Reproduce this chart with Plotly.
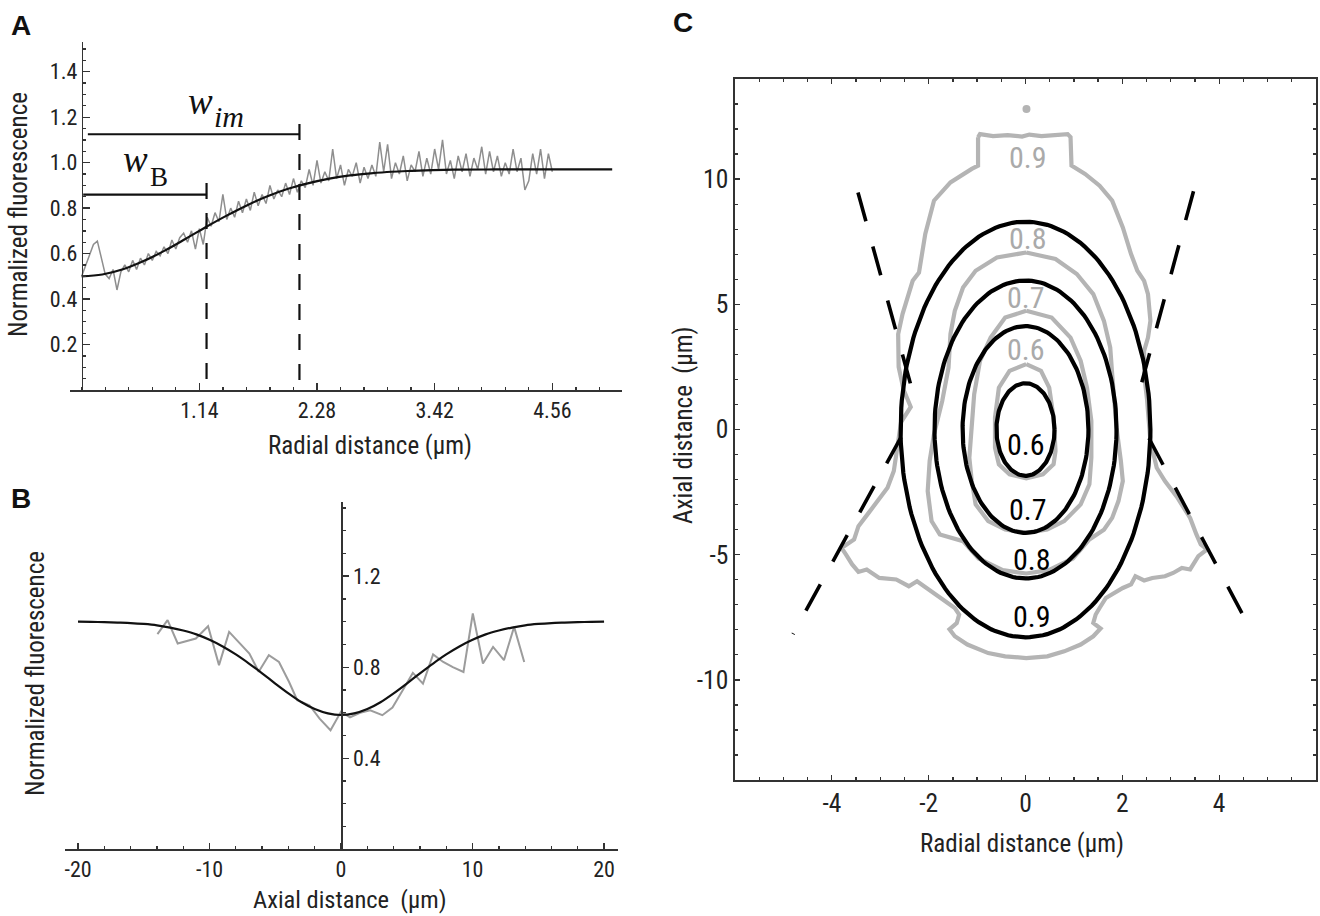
import numpy as np
import plotly.graph_objects as go

W, H = 1320, 916
SANS = "Liberation Sans Narrow, Arial Narrow, Roboto Condensed, Open Sans, sans-serif"
BOLD = "Liberation Sans, Arial, sans-serif"
SERIF = "Liberation Serif, DejaVu Serif, serif"
INK = "#222222"

# ---------------- Panel A: radial profile ----------------
A_STEP = 0.038
A_RAW_Y = [0.50, 0.55, 0.60, 0.64, 0.655, 0.58, 0.51, 0.49, 0.53, 0.44,
           0.52, 0.55, 0.52, 0.57, 0.53, 0.58, 0.55, 0.60, 0.57, 0.61,
           0.59, 0.63, 0.60, 0.66, 0.62, 0.67, 0.69, 0.65, 0.70, 0.62,
           0.71, 0.64, 0.76, 0.72, 0.78, 0.74, 0.86, 0.75, 0.80, 0.76,
           0.83, 0.78, 0.84, 0.79, 0.87, 0.81, 0.86, 0.82, 0.90, 0.84,
           0.88, 0.85, 0.91, 0.86, 0.93, 0.87, 0.92, 0.89, 0.97, 0.90,
           1.01, 0.91, 0.96, 0.92, 1.06, 0.93, 0.99, 0.90, 0.97, 0.94,
           1.00, 0.91, 0.98, 0.93, 0.99, 0.94, 1.09, 0.96, 1.08, 0.93,
           1.00, 0.95, 1.03, 0.92, 0.99, 0.96, 1.05, 0.94, 1.02, 0.95,
           1.06, 0.97, 1.10, 0.95, 1.01, 0.93, 1.03, 0.96, 1.04, 0.94,
           1.02, 0.97, 1.07, 0.95, 1.05, 0.96, 1.03, 0.94, 1.00, 0.95,
           1.06, 0.96, 1.02, 0.88, 0.92, 1.04, 0.95, 1.06, 0.93, 1.04, 0.96]
A_RAW_X = [round(i * A_STEP, 4) for i in range(len(A_RAW_Y))]
A_FIT_X = [0, 0.2, 0.4, 0.6, 0.8, 1.0, 1.2, 1.4, 1.6, 1.8, 2.0, 2.2, 2.4,
           2.6, 2.8, 3.0, 3.2, 3.4, 3.6, 4.0, 4.5, 5.14]
A_FIT_Y = [0.500, 0.508, 0.531, 0.567, 0.612, 0.663, 0.716, 0.766, 0.812,
           0.852, 0.885, 0.910, 0.930, 0.944, 0.953, 0.960, 0.964, 0.967,
           0.969, 0.970, 0.970, 0.970]
A_XTICKS = [1.14, 2.28, 3.42, 4.56]
A_XTICK_TEXT = ["1.14", "2.28", "3.42", "4.56"]
A_YTICKS = [0.2, 0.4, 0.6, 0.8, 1.0, 1.2, 1.4]
A_YTICK_TEXT = ["0.2", "0.4", "0.6", "0.8", "1.0", "1.2", "1.4"]
W_B_X, W_B_Y, W_B_TOP = 1.21, 0.859, 0.91
W_IM_X, W_IM_Y, W_IM_TOP = 2.11, 1.125, 1.17

# ---------------- Panel B: axial profile ----------------
B_RAW_X = [-13.96, -13.19, -12.42, -11.04, -10.11, -9.28, -8.51, -6.97, -6.26,
           -5.49, -4.72, -3.95, -3.33, -2.40, -1.63, -0.80, 0.0, 0.68, 1.45,
           2.22, 3.14, 3.91, 4.69, 5.46, 6.23, 7.00, 7.77, 8.50, 9.31, 10.02,
           10.79, 11.56, 12.39, 13.16, 13.93]
B_RAW_Y = [0.945, 1.007, 0.904, 0.926, 0.980, 0.809, 0.955, 0.860, 0.780,
           0.853, 0.823, 0.735, 0.655, 0.633, 0.574, 0.523, 0.605, 0.580, 0.600,
           0.611, 0.589, 0.623, 0.699, 0.775, 0.728, 0.856, 0.823, 0.800, 0.779,
           1.036, 0.816, 0.889, 0.831, 0.977, 0.823]
B_FIT_X = [-20, -19, -18, -17, -16, -15, -14, -13, -12, -11, -10, -9, -8, -7, -6, -5, -4, -3, -2, -1, 0,
           1, 2, 3, 4, 5, 6, 7, 8, 9, 10, 11, 12, 13, 14, 15, 16, 17, 18, 19, 20]
B_FIT_Y = [1.000, 0.999, 0.998, 0.996, 0.994, 0.990, 0.984, 0.974, 0.961, 0.944, 0.920,
           0.891, 0.856, 0.816, 0.773, 0.728, 0.685, 0.646, 0.616, 0.597, 0.590,
           0.597, 0.616, 0.646, 0.685, 0.728, 0.773, 0.816, 0.856, 0.891, 0.920,
           0.944, 0.961, 0.974, 0.984, 0.990, 0.994, 0.996, 0.998, 0.999, 1.000]
B_XTICKS = [-20, -10, 0, 10, 20]
B_XTICK_TEXT = ["-20", "-10", "0", "10", "20"]
B_YTICKS = [0.4, 0.8, 1.2]

# ---------------- Panel C: contours ----------------
C_X_SHIFT = -0.07   # calibration of the traced outlines to the axis origin
C_BLACK_LEVELS = ["0.6", "0.7", "0.8", "0.9"]
C_BLACK_RX = [0.60, 1.30, 1.88, 2.58]
C_BLACK_RY = [1.85, 4.13, 5.95, 8.30]
C_BLACK_CX = 0.0
C_BLACK_LABEL_XY = [(0.09, -0.59), (0.13, -3.19), (0.20, -5.19), (0.20, -7.46)]

G06_X = [0.085, 0.39, 0.56, 0.65, 0.69, 0.65, 0.43, 0.085, -0.26, -0.48, -0.56, -0.56, -0.48, -0.26, 0.085]
G06_Y = [2.61, 2.34, 1.67, 0.47, -0.86, -1.39, -1.79, -1.95, -1.79, -1.39, -0.73, 0.47, 1.67, 2.34, 2.61]
G07_X = [0.085, 0.61, 1.0, 1.21, 1.34, 1.43, 1.43, 1.39, 1.21, 0.87, 0.52, 0.085, -0.35, -0.70,
         -0.96, -1.04, -1.09, -1.04, -0.99, -0.87, -0.65, -0.35, 0.085]
G07_Y = [4.74, 4.47, 3.67, 2.74, 1.67, 0.34, -1.13, -2.19, -2.99, -3.66, -3.99, -4.13, -3.99, -3.66,
         -2.99, -2.06, -1.13, 0.07, 1.41, 2.74, 3.67, 4.47, 4.74]
G08_X = [0.085, 0.69, 1.13, 1.47, 1.69, 1.82, 1.86, 1.91, 1.95, 2.04, 2.08, 1.99, 1.86, 1.69, 1.39,
         1.05, 0.55, 0.085, -0.40, -0.90, -1.22, -1.70, -1.87, -1.95, -1.91, -1.82, -1.65, -1.52, -1.48, -1.39,
         -1.22, -0.96, -0.52, 0.085]
G08_Y = [7.07, 6.81, 6.21, 5.41, 4.34, 3.27, 2.21, 1.14, 0.07, -1.26, -2.06, -2.86, -3.53, -4.0, -4.39,
         -5.15, -5.62, -5.75, -5.62, -5.15, -4.46, -4.19, -3.66, -2.46, -1.26, -0.19, 1.14, 2.47, 3.81, 4.74,
         5.67, 6.34, 6.87, 7.07]
G09_X = [-0.91, -0.87, -0.60, -0.30, 0.00, 0.15, 0.40, 0.70, 0.94, 1.00,
         1.02, 1.30, 1.60, 1.86, 2.08, 2.25, 2.38, 2.52, 2.60, 2.65, 2.60, 2.52, 2.52, 2.58, 2.62, 2.65,
         2.78, 2.95, 3.21, 3.47, 3.60, 3.69, 3.82,
         3.64, 3.47, 3.30, 3.12, 2.95, 2.69, 2.52, 2.34, 2.25, 2.08, 1.73, 1.60, 1.52, 1.47, 1.62, 1.47,
         1.21, 0.87, 0.52, 0.085, -0.35, -0.70, -1.13, -1.39, -1.50, -1.35, -1.30, -1.39, -1.74, -2.00,
         -2.17, -2.34, -2.60, -2.95, -3.21, -3.38, -3.51, -3.64, -3.73,
         -3.47, -3.38, -3.17, -2.99, -2.78, -2.65, -2.60, -2.56,
         -2.50, -2.30, -2.45, -2.55, -2.56, -2.47, -2.26, -2.13, -2.00, -1.82, -1.48, -1.04, -0.91, -0.91]
G09_Y = [11.67, 11.80, 11.72, 11.76, 11.70, 11.78, 11.72, 11.76, 11.80, 11.68,
         10.54, 10.21, 9.74, 9.14, 8.07, 7.01, 6.34, 5.94, 5.41, 4.34, 3.67, 3.14, 2.2, 1.2, 0.2, -0.46,
         -1.53, -2.06, -2.73, -3.53, -4.19, -4.59, -4.79,
         -5.06, -5.59, -5.53, -5.73, -5.86, -5.93, -6.03, -5.86, -6.19, -6.33, -6.73, -7.13, -7.39, -7.73, -7.95, -8.26,
         -8.59, -8.86, -9.06, -9.13, -9.06, -8.93, -8.59, -8.26, -7.98, -7.73, -7.39, -7.13, -6.66, -6.33,
         -6.06, -6.26, -5.99, -5.93, -5.59, -5.69, -5.39, -4.99, -4.73,
         -4.39, -3.86, -3.33, -2.86, -2.33, -1.66, -0.99, -0.46,
         0.30, 0.90, 1.60, 2.50, 3.81, 4.61, 5.94, 6.27, 7.81, 9.14, 9.87, 10.41, 10.54, 11.67]
C_GRAY_LABELS = ["0.9", "0.8", "0.7", "0.6"]
C_GRAY_LABEL_XY = [(0.13, 10.87), (0.13, 7.64), (0.085, 5.27), (0.085, 3.21)]
C_SPOT = (0.09, 12.8)
C_DASH_LINES = [((-3.39, 9.47), (-2.17, 0.87)), ((3.54, 9.52), (2.34, 0.94)),
                ((-2.50, -0.30), (-4.73, -8.17)), ((2.62, -0.35), (4.77, -8.17))]
C_XTICKS = [-4, -2, 0, 2, 4]
C_XTICK_TEXT = ["-4", "-2", "0", "2", "4"]
C_YTICKS = [-10, -5, 0, 5, 10]
C_YTICK_TEXT = ["-10", "-5", "0", "5", "10"]

GRAY_A = "#8e8e8e"
GRAY_C = "#b4b4b4"


def cx(vals):
    return [v + C_X_SHIFT for v in vals]


fig = go.Figure()

# ---- Panel A traces
fig.add_trace(go.Scatter(x=A_RAW_X, y=A_RAW_Y, mode="lines", xaxis="x", yaxis="y",
                         line=dict(color=GRAY_A, width=1.5)))
fig.add_trace(go.Scatter(x=A_FIT_X, y=A_FIT_Y, mode="lines", xaxis="x", yaxis="y",
                         line=dict(color="#111", width=2.2, shape="spline")))
for bx, top in [(W_B_X, W_B_TOP), (W_IM_X, W_IM_TOP)]:
    fig.add_trace(go.Scatter(x=[bx, bx], y=[top, 0], mode="lines", xaxis="x", yaxis="y",
                             line=dict(color="#111", width=2.2, dash="16px,14px")))
fig.add_trace(go.Scatter(x=[0.015, W_B_X], y=[W_B_Y, W_B_Y], mode="lines", xaxis="x", yaxis="y",
                         line=dict(color="#111", width=2.2)))
fig.add_trace(go.Scatter(x=[0.06, W_IM_X], y=[W_IM_Y, W_IM_Y], mode="lines", xaxis="x", yaxis="y",
                         line=dict(color="#111", width=2.2)))

# ---- Panel B traces
fig.add_trace(go.Scatter(x=B_RAW_X, y=B_RAW_Y, mode="lines", xaxis="x2", yaxis="y2",
                         line=dict(color="#9c9c9c", width=2)))
fig.add_trace(go.Scatter(x=B_FIT_X, y=B_FIT_Y, mode="lines", xaxis="x2", yaxis="y2",
                         line=dict(color="#111", width=2.2, shape="spline", smoothing=0.6)))

# ---- Panel C traces
for gx, gy in [(G09_X, G09_Y), (G08_X, G08_Y), (G07_X, G07_Y), (G06_X, G06_Y)]:
    fig.add_trace(go.Scatter(x=cx(gx), y=gy, mode="lines", xaxis="x3", yaxis="y3",
                             line=dict(color=GRAY_C, width=4.2)))
fig.add_trace(go.Scatter(x=cx([C_SPOT[0]]), y=[C_SPOT[1]], mode="markers", xaxis="x3", yaxis="y3",
                         marker=dict(color=GRAY_C, size=8, symbol="circle")))
t = np.linspace(0, 2 * np.pi, 181)
for rx, ry in zip(C_BLACK_RX, C_BLACK_RY):
    fig.add_trace(go.Scatter(x=C_BLACK_CX + rx * np.cos(t), y=ry * np.sin(t), mode="lines",
                             xaxis="x3", yaxis="y3", line=dict(color="#000", width=4.2)))
for (p0, p1) in C_DASH_LINES:
    fig.add_trace(go.Scatter(x=cx([p0[0], p1[0]]), y=[p0[1], p1[1]], mode="lines",
                             xaxis="x3", yaxis="y3",
                             line=dict(color="#000", width=3.6, dash="30px,26px")))

tick_common = dict(showgrid=False, zeroline=False, showline=True, linecolor="#333",
                   linewidth=1.6, tickcolor="#333", tickwidth=1.3)


def px_x(p):
    return p / W


def px_y(p):
    return 1 - p / H


def minor(dt, side, ln=3):
    return dict(tickmode="linear", tick0=0, dtick=dt, ticks=side, ticklen=ln, tickcolor="#333")


fig.update_layout(
    width=W, height=H, margin=dict(l=0, r=0, t=0, b=0),
    paper_bgcolor="white", plot_bgcolor="white", showlegend=False, hovermode=False,
    xaxis=dict(domain=[px_x(70), px_x(622)], range=[-0.113, 5.235], anchor="y",
               tickmode="array", tickvals=A_XTICKS, ticktext=A_XTICK_TEXT,
               ticks="inside", ticklen=7, minor=minor(0.228, "inside"),
               tickfont=dict(family=SANS, size=22, color=INK), **tick_common),
    yaxis=dict(domain=[px_y(390), px_y(41.7)], range=[0, 1.532], anchor="free",
               position=px_x(81.7), tickmode="array", tickvals=A_YTICKS, ticktext=A_YTICK_TEXT,
               ticks="inside", ticklen=7, minor=minor(0.05, "inside"),
               tickfont=dict(family=SANS, size=22, color=INK), **tick_common),
    xaxis2=dict(domain=[px_x(65), px_x(618)], range=[-20.99, 21.06], anchor="y2",
                tickmode="array", tickvals=B_XTICKS, ticktext=B_XTICK_TEXT,
                ticks="inside", ticklen=6, minor=minor(2, "inside"),
                tickfont=dict(family=SANS, size=22, color=INK), **tick_common),
    yaxis2=dict(domain=[px_y(849.3), px_y(501.7)], range=[0, 1.527], anchor="free",
                position=px_x(341), side="right", tickmode="array", tickvals=B_YTICKS,
                ticks="outside", ticklen=6, minor=minor(0.1, "outside"),
                tickfont=dict(family=SANS, size=22, color=INK), **tick_common),
    xaxis3=dict(domain=[px_x(735), px_x(1316)], range=[-6, 6], anchor="y3",
                mirror="ticks", tickmode="array", tickvals=C_XTICKS, ticktext=C_XTICK_TEXT,
                ticks="inside", ticklen=5, minor=minor(0.5, "inside"),
                tickfont=dict(family=SANS, size=25.5, color=INK), **tick_common),
    yaxis3=dict(domain=[px_y(780), px_y(79)], range=[-14, 14], anchor="x3",
                mirror="ticks", tickmode="array", tickvals=C_YTICKS, ticktext=C_YTICK_TEXT,
                ticks="inside", ticklen=5, minor=minor(1, "inside"),
                tickfont=dict(family=SANS, size=25.5, color=INK), **tick_common),
)

ann = []


def paper_text(text, x, y, size, family=SANS, angle=0, color=INK, italic=False):
    if italic:
        text = f"<i>{text}</i>"
    ann.append(dict(text=text, x=px_x(x), y=px_y(y),
                    xref="paper", yref="paper", showarrow=False, textangle=angle,
                    xanchor="center", yanchor="middle",
                    font=dict(family=family, size=size, color=color)))


paper_text("<b>A</b>", 21, 25, 28, family=BOLD, color="#111")
paper_text("<b>B</b>", 21, 498, 28, family=BOLD, color="#111")
paper_text("<b>C</b>", 683, 23, 28, family=BOLD, color="#111")
paper_text("Normalized fluorescence", 18, 215, 25, angle=-90)
paper_text("Radial distance (μm)", 370, 445, 25)
paper_text("Normalized fluorescence", 35, 674, 25, angle=-90)
paper_text("Axial distance  (μm)", 350, 899, 24.5)
paper_text("Axial distance  (μm)", 684, 426, 25, angle=-90)
paper_text("Radial distance (μm)", 1022, 843, 25)

# w labels
paper_text("w", 200, 102, 37, family=SERIF, color="#111", italic=True)
paper_text("im", 229, 117, 30, family=SERIF, color="#111", italic=True)
paper_text("w", 135.5, 159, 37, family=SERIF, color="#111", italic=True)
paper_text("B", 159, 177, 27, family=SERIF, color="#111")

for lab, (lx, ly) in zip(C_GRAY_LABELS, C_GRAY_LABEL_XY):
    ann.append(dict(text=lab, x=lx + C_X_SHIFT, y=ly, xref="x3", yref="y3", showarrow=False,
                    font=dict(family=SANS, size=30, color="#aaaaaa")))
for lab, (lx, ly) in zip(C_BLACK_LEVELS, C_BLACK_LABEL_XY):
    ann.append(dict(text=lab, x=lx + C_X_SHIFT, y=ly, xref="x3", yref="y3", showarrow=False,
                    font=dict(family=SANS, size=30, color="#000")))

fig.update_layout(annotations=ann)
fig.write_html("out.html", config={"displayModeBar": False, "staticPlot": True},
               post_script="document.body.style.margin='0';document.body.style.padding='0';"
                           "document.documentElement.style.overflow='hidden';")
